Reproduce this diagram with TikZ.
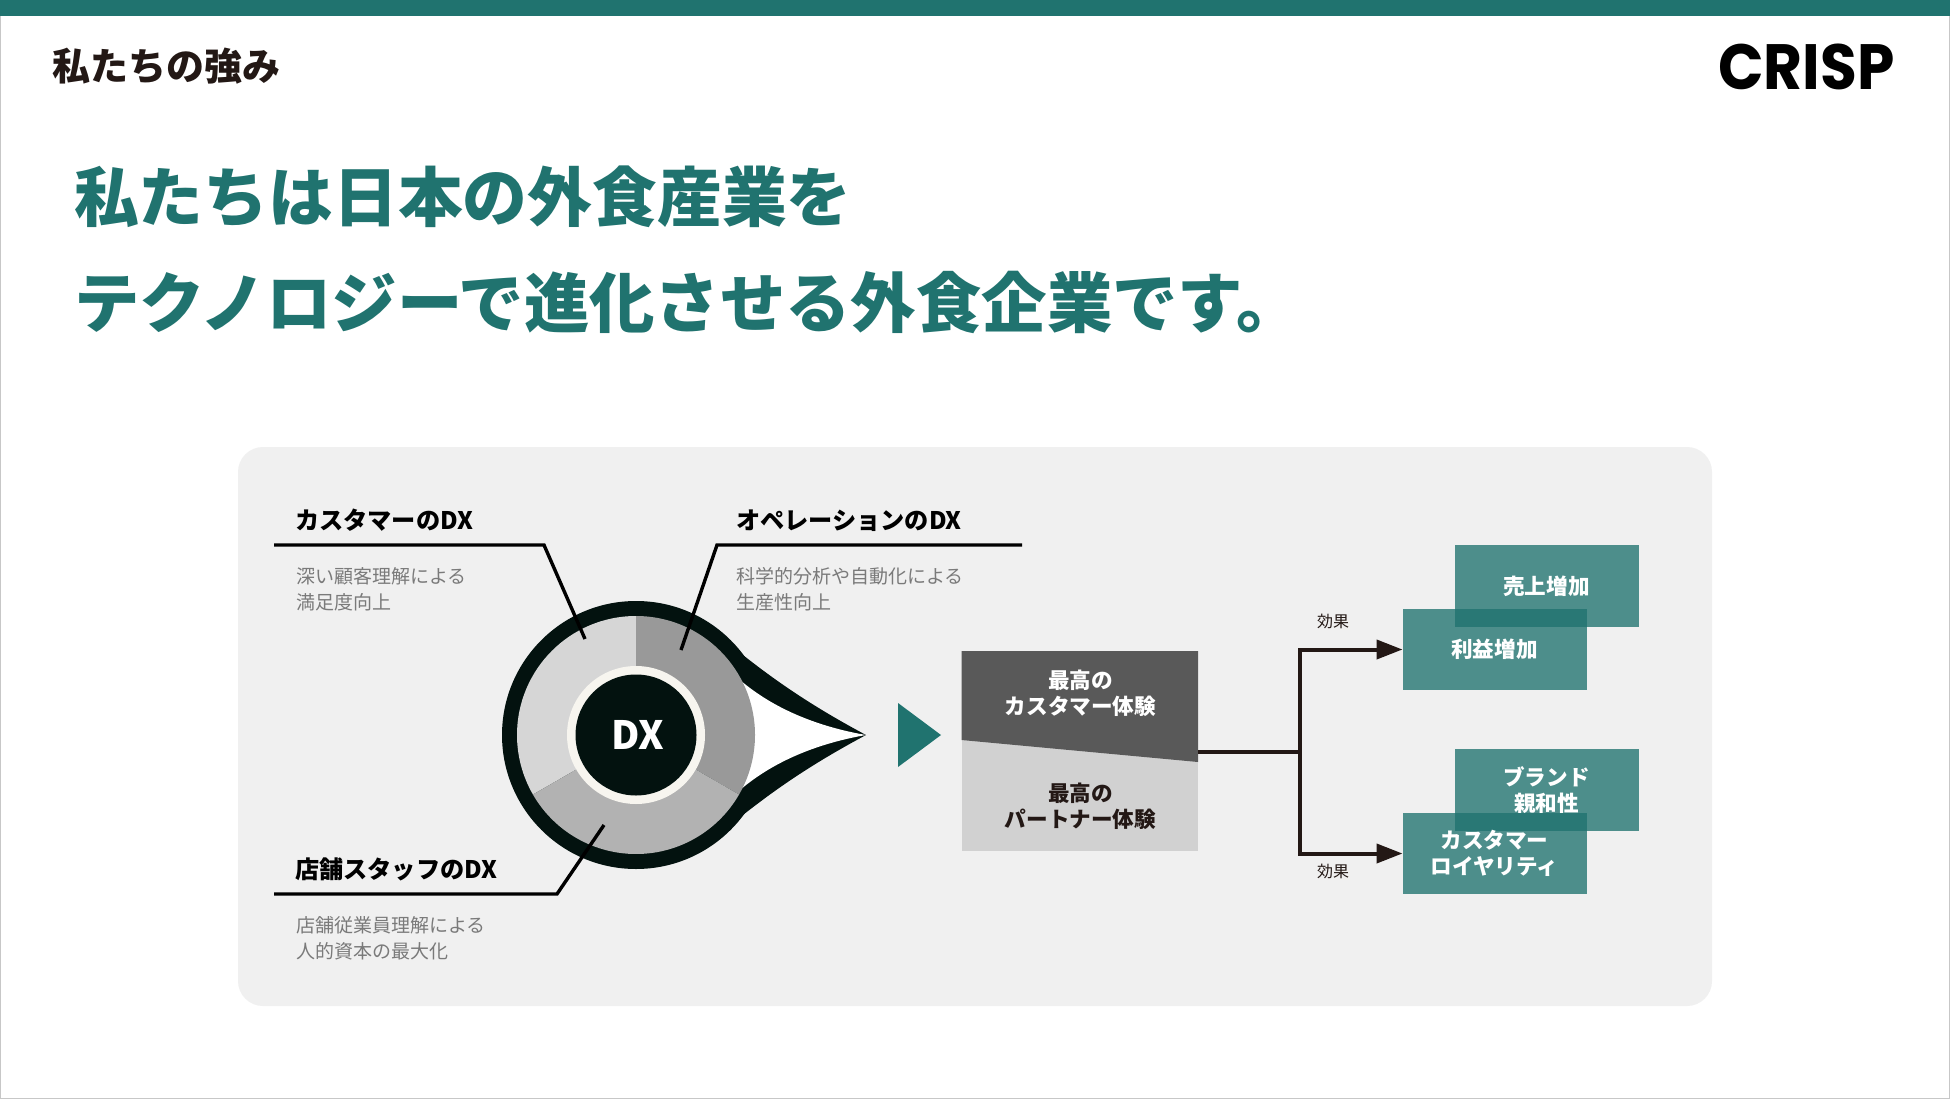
\documentclass[tikz,border=0pt]{standalone}
\usepackage{fontspec}
\usetikzlibrary{arrows.meta}
\setmainfont{Noto Sans CJK JP}
\newfontfamily\crispfont{Poppins}
\definecolor{teal}{HTML}{20736F}
\definecolor{ink}{HTML}{231815}
\definecolor{dark}{HTML}{03120F}
\definecolor{panel}{HTML}{F0F0F0}
\definecolor{ringc}{HTML}{F7F5EF}
\newcommand{\fs}[2]{\fontsize{#1}{#2}\selectfont}
\tikzset{
  txt/.style={inner sep=0pt,outer sep=0pt,align=left},
  title/.style={txt,anchor=west,text=teal},
  dxlabel/.style={txt,anchor=west,text=black,font=\fs{24.2}{30}\bfseries},
  desc/.style={txt,anchor=west,text=black!52,font=\fs{19}{26}},
  tealbox/.style={rectangle,fill=teal,fill opacity=.78,text opacity=1,text=white,inner sep=0pt,outer sep=0pt,
     minimum width=184pt,minimum height=81.5pt,align=center,font=\fs{21.6}{26}\bfseries},
  leader/.style={draw=black,line width=3.4pt,line join=miter},
  flow/.style={draw=ink,line width=4pt},
  flowarrow/.style={flow,-{Triangle[length=26pt,width=19pt]}},
  effect/.style={txt,text=ink,font=\fs{16}{20}},
  inbox/.style={txt,align=center,font=\fs{21.6}{26}\bfseries},
}
\begin{document}
\begin{tikzpicture}[x=1pt,y=-1pt]
\useasboundingbox (0,0) rectangle (1950,1099);
\fill[white] (0,0) rectangle (1950,1099);
\draw[black!22,line width=2pt] (0,0) rectangle (1950,1099);
\fill[teal] (0,0) rectangle (1950,16);
\node[txt,anchor=west,text=ink,font=\fs{38}{44}\bfseries] (head) at (52,66) {私たちの強み};
\node[txt,text=black,font=\crispfont\fs{64}{70}\bfseries,xscale=.935] (logo) at (1806.5,66.5) {CRISP};
\node[title,font=\fs{64.8}{78}\bfseries] (t1) at (74,197) {私たちは日本の外食産業を};
\node[title,font=\fs{65.4}{78}\bfseries] (t2) at (74,302) {テクノロジーで進化させる外食企業です。};
% panel
\fill[panel,rounded corners=25pt] (238,447) rectangle (1712,1006);
% teardrop
\fill[dark] (692,614) .. controls (740,652) and (778,688) .. (866,735)
   .. controls (778,782) and (740,818) .. (692,856) -- (636,735) -- cycle;
\fill[dark] (636,735) circle[radius=134pt];
\fill[white] (740,680) .. controls (775,710) and (820,727) .. (866,735)
   .. controls (820,743) and (775,760) .. (740,790) -- cycle;
\begin{scope}[shift={(636,735)}]
  \fill[black!16] (0,0) -- (90:119pt) arc[start angle=90,end angle=210,radius=119pt] -- cycle;
  \fill[black!40] (0,0) -- (90:119pt) arc[start angle=90,end angle=-30,radius=119pt] -- cycle;
  \fill[black!30] (0,0) -- (210:119pt) arc[start angle=210,end angle=330,radius=119pt] -- cycle;
  \fill[ringc] (0,0) circle[radius=69pt];
  \fill[dark] (0,0) circle[radius=60.5pt];
\end{scope}
\node[txt,text=white,font=\fs{39}{44}\bfseries] (dx) at (637.5,735) {DX};
% leaders and labels
\coordinate (a0) at (274,545); \coordinate (a1) at (544,545); \coordinate (a2) at (585,639);
\coordinate (b0) at (1022,545); \coordinate (b1) at (717,545); \coordinate (b2) at (681,650);
\coordinate (c0) at (274,894); \coordinate (c1) at (557,894); \coordinate (c2) at (604,825);
\draw[leader] (a0) -- (a1) -- (a2);
\draw[leader] (b0) -- (b1) -- (b2);
\draw[leader] (c0) -- (c1) -- (c2);
\node[dxlabel] (la) at (295,520) {カスタマーのDX};
\node[dxlabel] (lb) at (736,520.5) {オペレーションのDX};
\node[dxlabel] (lc) at (295,869) {店舗スタッフのDX};
\node[desc] (da) at (296,589) {深い顧客理解による\\満足度向上};
\node[desc] (db) at (736,589) {科学的分析や自動化による\\生産性向上};
\node[desc] (dc) at (296,938) {店舗従業員理解による\\人的資本の最大化};
% triangle
\fill[teal] (898,703) -- (941,735) -- (898,767) -- cycle;
% experience box
\fill[black!18] (961.5,651) rectangle (1198,850.5);
\fill[black!65] (961.5,651) -- (1198,651) -- (1198,762) -- (961.5,740) -- cycle;
\node[rectangle,inner sep=0pt,outer sep=0pt,minimum width=236.5pt,minimum height=199.5pt] (exp) at (1079.75,750.75) {};
\node[inbox,text=white] (e1) at (1080.5,693) {最高の\\カスタマー体験};
\node[inbox,text=ink] (e2) at (1080.5,806) {最高の\\パートナー体験};
% teal boxes
\node[tealbox] (sales) at (1546.5,586) {売上増加};
\node[tealbox] (profit) at (1494.5,649.5) {利益増加};
\node[tealbox] (brand) at (1546.5,790) {ブランド\\親和性};
\node[tealbox] (loyal) at (1494.5,853.5) {カスタマー\\ロイヤリティ};
% connectors
\coordinate (jc) at (1300,752);
\draw[flow] (exp.east |- jc) -- (jc);
\draw[flowarrow] (jc) |- (profit.west);
\draw[flowarrow] (jc) |- (loyal.west);
\node[effect] (e3) at (1333,621) {効果};
\node[effect] (e4) at (1333,871) {効果};
\end{tikzpicture}
\end{document}
